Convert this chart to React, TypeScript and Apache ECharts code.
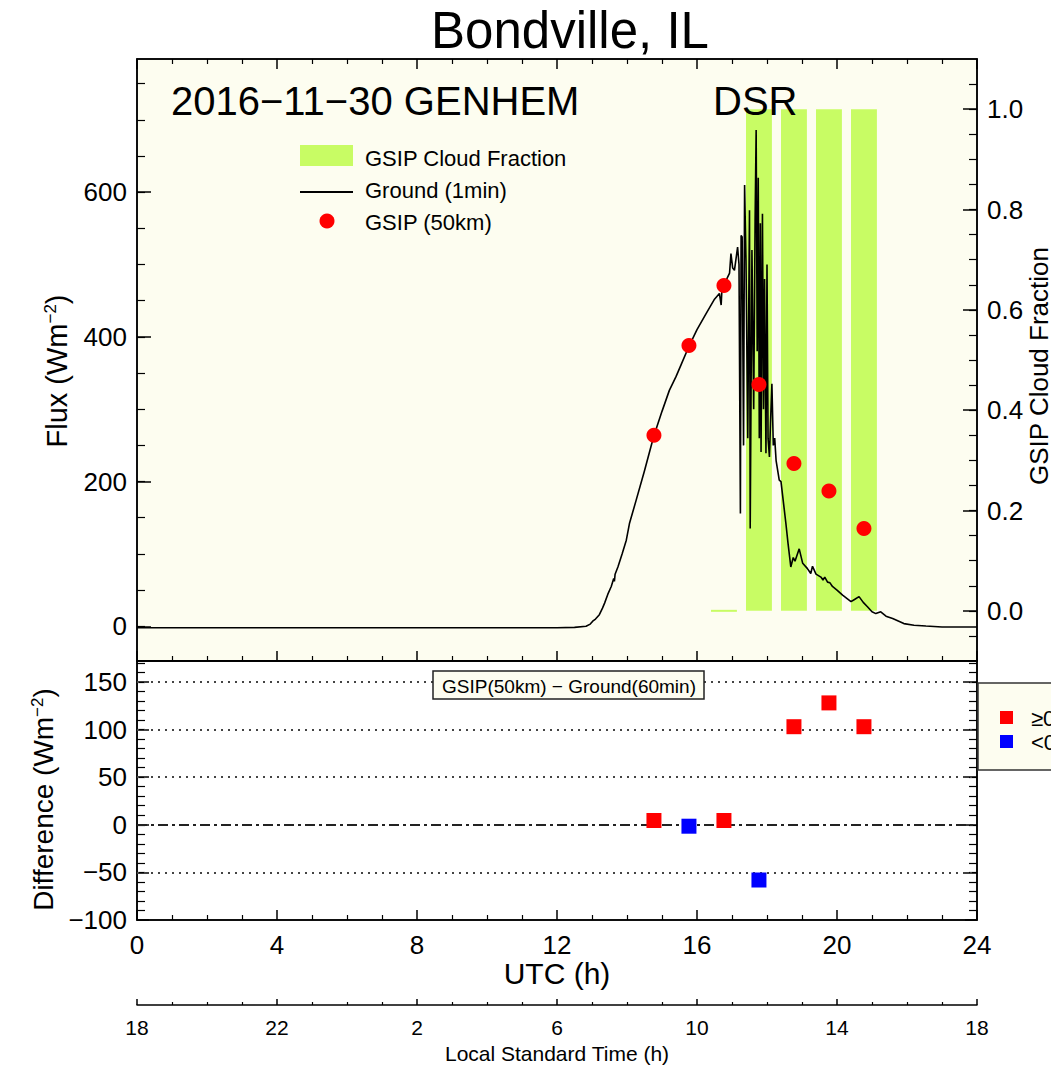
import React, { useEffect, useRef, useState } from 'react';
import * as echarts from 'echarts';

const FONT = '"Liberation Sans", Arial, Helvetica, sans-serif';
const GREEN = '#c8fc64';
const CREAM = '#fdfdf0';

// GSIP (50 km) retrievals: hour (UTC), flux (W m-2)
const gsipHours = [14.77, 15.77, 16.77, 17.77, 18.77, 19.77, 20.77];
const gsipFlux = [264, 388, 471, 334, 225, 187, 135];
// GSIP cloud fraction at the same hours (null = not available)
const cloudFraction = [null, null, 0, 1, 1, 1, 1];
// GSIP(50km) - Ground(60min) differences
const diffValues = [4.5, -1.5, 4.5, -58, 103, 128, 103];

// Ground (1 min) DSR: [hour UTC, flux]
const groundFlux1min: [number, number][] = [
  [0, -2], [2, -2], [4, -2], [6, -2], [8, -2], [10, -2], [12, -2], [12.5, -1.5],
  [12.83, 0], [12.95, 3], [13.02, 7], [13.1, 10], [13.21, 16], [13.3, 25], [13.36, 32],
  [13.45, 44], [13.55, 55], [13.62, 66], [13.64, 62], [13.66, 72], [13.74, 82], [13.86, 100],
  [13.98, 119], [14.07, 142], [14.26, 174], [14.5, 215], [14.76, 262], [15.0, 297], [15.21, 326],
  [15.4, 345], [15.55, 362], [15.78, 388], [16.0, 410], [16.26, 432], [16.5, 452], [16.64, 460],
  [16.69, 444], [16.71, 463], [16.76, 471], [16.93, 488], [16.97, 515], [17.02, 495], [17.07, 492],
  [17.16, 524], [17.2, 500], [17.24, 156], [17.26, 540], [17.29, 538], [17.33, 250], [17.36, 610],
  [17.4, 505], [17.45, 260], [17.5, 575], [17.52, 135], [17.57, 520], [17.62, 300], [17.66, 560],
  [17.69, 686], [17.72, 380], [17.75, 620], [17.78, 260], [17.81, 557], [17.83, 241], [17.87, 570],
  [17.9, 300], [17.93, 480], [17.97, 239], [18.0, 500], [18.03, 260], [18.07, 234], [18.1, 281],
  [18.14, 335], [18.18, 250], [18.22, 260], [18.26, 229], [18.35, 202], [18.4, 200], [18.54, 142],
  [18.6, 115], [18.68, 82], [18.75, 95], [18.8, 90], [18.92, 107], [19.02, 87], [19.15, 80],
  [19.25, 73], [19.3, 83], [19.4, 72], [19.54, 68], [19.6, 64], [19.65, 68], [19.73, 61],
  [19.8, 60], [19.87, 55], [20.0, 50], [20.16, 43], [20.4, 34], [20.5, 37], [20.63, 41],
  [20.75, 33], [20.87, 27], [21.0, 20], [21.11, 17.5], [21.25, 20], [21.4, 14], [21.59, 10.6],
  [21.91, 3.7], [22.2, 1.5], [22.54, 0.4], [23.0, -1], [24, -1],
];

// tick values
const fluxTicks = [0, 200, 400, 600];
const fluxMinorTicks = [0, 50, 100, 150, 200, 250, 300, 350, 400, 450, 500, 550, 600, 650, 700, 750];
const cfTicks = [0, 0.2, 0.4, 0.6, 0.8, 1.0];
const cfMinorTicks = [-0.05, 0, 0.05, 0.1, 0.15, 0.2, 0.25, 0.3, 0.35, 0.4, 0.45, 0.5, 0.55, 0.6, 0.65, 0.7, 0.75, 0.8, 0.85, 0.9, 0.95, 1.0, 1.05];
const diffTicks = [-100, -50, 0, 50, 100, 150];
const diffMinorTicks = [-90, -80, -70, -60, -50, -40, -30, -20, -10, 0, 10, 20, 30, 40, 50, 60, 70, 80, 90, 100, 110, 120, 130, 140, 150, 160, 170];
const dottedLevels = [150, 100, 50, -50];
const utcOffset = -6;

const fmtNum = (v: number) => (v < 0 ? '\u2212' + Math.abs(v) : String(v));

export default function App() {
  const ref = useRef<HTMLDivElement>(null);
  const [errs, setErrs] = useState<string[]>([]);
  useEffect(() => {
    if (!ref.current) return;
    const errors: string[] = [];
    const chart = echarts.init(ref.current, null, { renderer: 'svg' });
    const axisLine = { show: true, onZero: false, lineStyle: { color: '#000', width: 1.5 } };
    const lbl = { fontFamily: FONT, fontSize: 26, color: '#000' };
    const xBase = (gridIndex: number, position: string) => ({
      type: 'value', gridIndex, position, min: 0, max: 24, interval: 4,
      axisLine, splitLine: { show: false },
      axisTick: { show: true, inside: true, length: 10, lineStyle: { color: '#000', width: 1.5 } },
      minorTick: { show: true, splitNumber: 4, length: 5, lineStyle: { color: '#000', width: 1.2 } },
      axisLabel: { show: false },
    });
    const yMajor = (gridIndex: number, position: string, min: number, max: number, ticks: number[], showLabel: boolean, fmt?: (v: number) => string) => ({
      type: 'value', gridIndex, position, min, max,
      axisLine, splitLine: { show: false },
      axisTick: { show: true, inside: true, length: 14, customValues: ticks, lineStyle: { color: '#000', width: 1.5 } },
      axisLabel: { show: showLabel, customValues: ticks, margin: 10, formatter: fmt || fmtNum, ...lbl },
    });
    const yMinor = (gridIndex: number, position: string, min: number, max: number, ticks: number[]) => ({
      type: 'value', gridIndex, position, min, max,
      axisLine: { show: false, onZero: false }, splitLine: { show: false },
      axisTick: { show: true, inside: true, length: 8, customValues: ticks, lineStyle: { color: '#000', width: 1.2 } },
      axisLabel: { show: false },
    });
    const supRich = { sup: { fontSize: 17, fontFamily: FONT, color: '#000', verticalAlign: 'top', lineHeight: 17 } };

    const cfData = gsipHours
      .map((h, i) => [h, cloudFraction[i]])
      .filter((d) => d[1] !== null);

    const option: any = {
      animation: false,
      backgroundColor: '#ffffff',
      grid: [
        { left: 137, top: 59, width: 840, height: 602, show: true, backgroundColor: CREAM, borderColor: '#000', borderWidth: 1.5, outerBoundsMode: 'none', containLabel: false },
        { left: 137, top: 661, width: 840, height: 259, show: true, backgroundColor: '#ffffff', borderColor: '#000', borderWidth: 1.5, outerBoundsMode: 'none', containLabel: false },
        { left: 137, top: 1000, width: 840, height: 5, show: false, outerBoundsMode: 'none', containLabel: false },
      ],
      xAxis: [
        xBase(0, 'bottom'),
        xBase(0, 'top'),
        {
          ...xBase(1, 'bottom'),
          axisLabel: { show: true, margin: 12, ...lbl },
          name: 'UTC (h)', nameLocation: 'middle', nameGap: 38,
          nameTextStyle: { fontFamily: FONT, fontSize: 30, color: '#000' },
        },
        { ...xBase(1, 'top'), axisTick: { show: false }, minorTick: { show: false } },
        {
          ...xBase(2, 'bottom'),
          axisTick: { show: true, inside: true, length: 6, lineStyle: { color: '#000', width: 1.5 } },
          minorTick: { show: true, splitNumber: 4, length: 3, lineStyle: { color: '#000', width: 1.2 } },
          axisLabel: {
            show: true, margin: 12, fontFamily: FONT, fontSize: 21, color: '#000',
            formatter: (v: number) => String((((v + utcOffset) % 24) + 24) % 24),
          },
          name: 'Local Standard Time (h)', nameLocation: 'middle', nameGap: 38,
          nameTextStyle: { fontFamily: FONT, fontSize: 21, color: '#000' },
        },
      ],
      yAxis: [
        {
          ...yMajor(0, 'left', -48, 784, fluxTicks, true),
          name: 'Flux (Wm{sup|\u22122})', nameLocation: 'middle', nameRotate: 90, nameGap: 66,
          nameTextStyle: { fontFamily: FONT, fontSize: 29, color: '#000', rich: supRich, padding: [0, 22, 0, 0] },
        },
        yMinor(0, 'left', -48, 784, fluxMinorTicks),
        {
          ...yMajor(0, 'right', -0.1, 1.1, cfTicks, true, (v: number) => v.toFixed(1)),
          name: 'GSIP Cloud Fraction', nameLocation: 'middle', nameRotate: 90, nameGap: 49,
          nameMoveOverlap: false,
          nameTextStyle: { fontFamily: FONT, fontSize: 26, color: '#000', padding: [0, 12, 0, 0] },
        },
        yMinor(0, 'right', -0.1, 1.1, cfMinorTicks),
        {
          ...yMajor(1, 'left', -100, 172, diffTicks, true),
          axisTick: { show: true, inside: true, length: 12, customValues: diffTicks, lineStyle: { color: '#000', width: 1.5 } },
          name: 'Difference (Wm{sup|\u22122})', nameLocation: 'middle', nameRotate: 90, nameGap: 80,
          nameTextStyle: { fontFamily: FONT, fontSize: 28, color: '#000', rich: supRich, padding: [0, 18, 0, 0] },
        },
        yMinor(1, 'left', -100, 172, diffMinorTicks),
        {
          ...yMajor(1, 'right', -100, 172, diffTicks, false),
          axisTick: { show: true, inside: true, length: 12, customValues: diffTicks, lineStyle: { color: '#000', width: 1.5 } },
        },
        yMinor(1, 'right', -100, 172, diffMinorTicks),
        { type: 'value', gridIndex: 2, show: false, min: 0, max: 1 },
      ],
      series: [
        {
          type: 'custom', name: 'GSIP Cloud Fraction', xAxisIndex: 0, yAxisIndex: 2, z: 1,
          data: cfData,
          renderItem: (params: any, api: any) => {
            const h = api.value(0);
            const v = api.value(1);
            const p0 = api.coord([h - 0.37, v]);
            const p1 = api.coord([h + 0.37, 0]);
            let y = p0[1];
            let hgt = p1[1] - p0[1];
            if (hgt < 2) { y = p1[1] - 1; hgt = 2; }
            return { type: 'rect', shape: { x: p0[0], y, width: p1[0] - p0[0], height: hgt }, style: { fill: GREEN } };
          },
        },
        {
          type: 'line', name: 'Ground (1min)', xAxisIndex: 0, yAxisIndex: 0, z: 3,
          data: groundFlux1min, showSymbol: false, symbol: 'none',
          lineStyle: { color: '#000', width: 1.6 },
        },
        {
          type: 'scatter', name: 'GSIP (50km)', xAxisIndex: 0, yAxisIndex: 0, z: 4,
          data: gsipHours.map((h, i) => [h, gsipFlux[i]]),
          symbol: 'circle', symbolSize: 15, itemStyle: { color: '#ff0000', opacity: 1 },
        },
        {
          type: 'scatter', name: 'Difference', xAxisIndex: 2, yAxisIndex: 4, z: 6,
          data: gsipHours.map((h, i) => [h, diffValues[i]]),
          symbol: 'rect', symbolSize: 15,
          itemStyle: { opacity: 1, color: (p: any) => (p.value[1] >= 0 ? '#ff0000' : '#0000ff') },
          markLine: {
            z: 2, symbol: 'none', silent: true, label: { show: false },
            data: [
              ...dottedLevels.map((lv) => ({ yAxis: lv, lineStyle: { color: '#444', width: 2, type: [2, 5] } })),
              { yAxis: 0, lineStyle: { color: '#222', width: 2, type: [10, 4, 3, 4] } },
            ],
          },
        },
      ],
      graphic: [
        { type: 'text', x: 570, y: 30, z: 100, style: { text: 'Bondville, IL', fontFamily: FONT, fontSize: 51, fill: '#000', align: 'center', verticalAlign: 'middle' } },
        { type: 'text', x: 171, y: 101, z: 100, style: { text: '2016\u221211\u221230 GENHEM', fontFamily: FONT, fontSize: 40, fill: '#000', align: 'left', verticalAlign: 'middle' } },
        { type: 'text', x: 713, y: 101, z: 100, style: { text: 'DSR', fontFamily: FONT, fontSize: 40, fill: '#000', align: 'left', verticalAlign: 'middle' } },
        { type: 'rect', z: 100, shape: { x: 300, y: 145, width: 53, height: 21 }, style: { fill: GREEN } },
        { type: 'text', x: 365, y: 158, z: 100, style: { text: 'GSIP Cloud Fraction', fontFamily: FONT, fontSize: 22, fill: '#000', verticalAlign: 'middle' } },
        { type: 'line', z: 100, shape: { x1: 300, y1: 192, x2: 353, y2: 192 }, style: { stroke: '#000', lineWidth: 2 } },
        { type: 'text', x: 365, y: 190, z: 100, style: { text: 'Ground (1min)', fontFamily: FONT, fontSize: 22, fill: '#000', verticalAlign: 'middle' } },
        { type: 'circle', z: 100, shape: { cx: 327, cy: 221, r: 7.5 }, style: { fill: '#ff0000' } },
        { type: 'text', x: 365, y: 222, z: 100, style: { text: 'GSIP (50km)', fontFamily: FONT, fontSize: 22, fill: '#000', verticalAlign: 'middle' } },
        { type: 'rect', z: 100, shape: { x: 433, y: 671, width: 271, height: 28 }, style: { fill: CREAM, stroke: '#222', lineWidth: 1.5 } },
        { type: 'text', x: 569, y: 686, z: 101, style: { text: 'GSIP(50km) \u2212 Ground(60min)', fontFamily: FONT, fontSize: 19, fill: '#000', align: 'center', verticalAlign: 'middle' } },
        { type: 'rect', z: 100, shape: { x: 978, y: 683, width: 120, height: 87 }, style: { fill: CREAM, stroke: '#333', lineWidth: 1.5 } },
        { type: 'rect', z: 101, shape: { x: 1000, y: 711, width: 13, height: 13 }, style: { fill: '#ff0000' } },
        { type: 'rect', z: 101, shape: { x: 1000, y: 735, width: 13, height: 13 }, style: { fill: '#0000ff' } },
        { type: 'text', x: 1031, y: 718, z: 101, style: { text: '\u22650', fontFamily: FONT, fontSize: 22, fill: '#000', verticalAlign: 'middle' } },
        { type: 'text', x: 1031, y: 742, z: 101, style: { text: '<0', fontFamily: FONT, fontSize: 22, fill: '#000', verticalAlign: 'middle' } },
      ],
    };
    try {
      chart.setOption(option);
    } catch (e: any) {
      errors.push(String(e && e.message) + ' | ' + String(e && e.stack).slice(0, 300));
    }
    setErrs(errors);
    return () => chart.dispose();
  }, []);
  return (
    <>
      <div ref={ref} style={{ position: 'absolute', left: 0, top: 0, width: 1051, height: 1065 }} />
      {errs.length > 0 && (
        <div style={{ position: 'absolute', left: 150, top: 300, width: 700, fontSize: 14, color: 'purple', fontFamily: 'monospace' }}>
          {errs.map((e, i) => <div key={i}>{e}</div>)}
        </div>
      )}
    </>
  );
}
